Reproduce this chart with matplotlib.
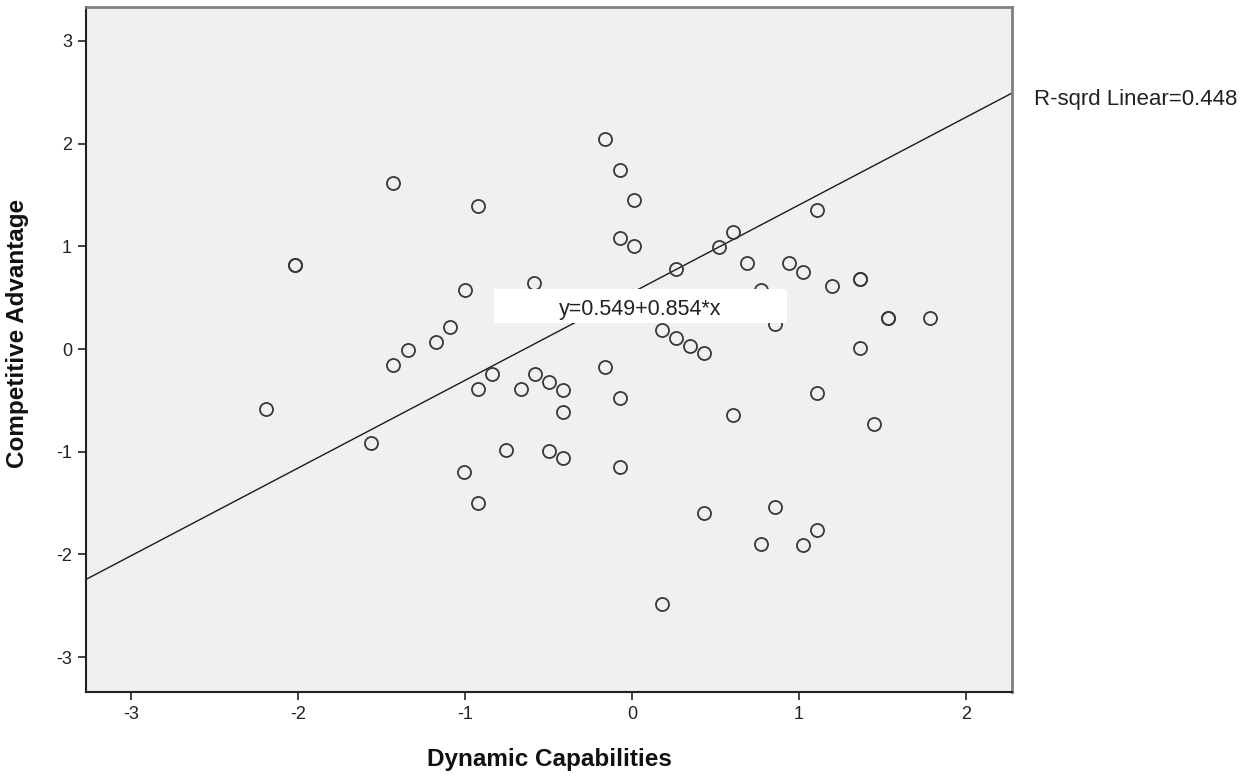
"""SPSS-style scatter: Dynamic Capabilities vs Competitive Advantage with linear fit."""

import matplotlib
matplotlib.use("Agg")
import matplotlib.pyplot as plt
from matplotlib.patches import Rectangle

plt.rcParams["font.family"] = ["Liberation Sans", "DejaVu Sans"]
plt.rcParams["axes.unicode_minus"] = False

# --- data ---
dynamic_caps = [
    -2.19, -2.02, -2.02, -1.565, -1.43, -1.43, -1.34, -1.175, -1.09, -1.00,
    -1.006, -0.92, -0.922, -0.922, -0.84, -0.753, -0.667, -0.585, -0.58, -0.497,
    -0.497, -0.413, -0.413, -0.413, -0.162, -0.162, -0.074, -0.074, -0.074, -0.074,
    0.01, 0.01, 0.178, 0.178, 0.263, 0.263, 0.347, 0.433, 0.433, 0.519,
    0.603, 0.603, 0.687, 0.77, 0.77, 0.856, 0.856, 0.94, 1.026, 1.026,
    1.11, 1.11, 1.11, 1.196, 1.365, 1.365, 1.365, 1.449, 1.535, 1.535,
    1.784,
]
competitive_adv = [
    -0.58, 0.82, 0.82, -0.917, 1.62, -0.156, -0.007, 0.065, 0.21, 0.57,
    -1.20, 1.39, -0.386, -1.498, -0.24, -0.98, -0.392, 0.645, -0.24, -0.32,
    -0.99, -0.40, -0.616, -1.063, 2.04, -0.178, 1.74, 1.077, -0.477, -1.145,
    1.447, 1.00, 0.185, -2.48, 0.778, 0.107, 0.032, -0.042, -1.60, 0.99,
    1.14, -0.639, 0.84, 0.574, -1.90, 0.243, -1.534, 0.834, 0.752, -1.907,
    1.35, -0.428, -1.76, 0.61, 0.678, 0.678, 0.01, -0.73, 0.30, 0.30,
    0.30,
]
INTERCEPT = 0.549
SLOPE = 0.854
R_SQ = 0.448

X_TICKS = [-3, -2, -1, 0, 1, 2]
Y_TICKS = [-3, -2, -1, 0, 1, 2, 3]
XLIM = (-3.27, 2.275)
YLIM = (-3.34, 3.33)

# --- style ---
PLOT_BG = "#F0F0F0"
MARKER_EDGE = "#383838"
DPI = 100

fig = plt.figure(figsize=(12.59, 7.78), dpi=DPI)
ax = fig.add_axes([0.0683, 0.1105, 0.7355, 0.8805])
ax.set_facecolor(PLOT_BG)

ax.plot(dynamic_caps, competitive_adv, linestyle="none", marker="o",
        markersize=9.4, markerfacecolor="none", markeredgecolor=MARKER_EDGE,
        markeredgewidth=1.3, zorder=3)

line_x = list(XLIM)
line_y = [INTERCEPT + SLOPE * v for v in line_x]
ax.plot(line_x, line_y, color="#1a1a1a", linewidth=1.0, zorder=2)

ax.set_xlim(*XLIM)
ax.set_ylim(*YLIM)

# equation label box
ax.add_patch(Rectangle((-0.826, 0.253), 1.754, 0.331, facecolor="white",
                       edgecolor="none", zorder=4))
ax.text(0.05, 0.38, f"y={INTERCEPT}+{SLOPE}*x", ha="center", va="center",
        fontsize=15.5, color="#222222", zorder=5)

fig.text(0.821, 0.8715, f"R-sqrd Linear={R_SQ}", ha="left", va="center",
         fontsize=16, color="#222222")

ax.set_xticks(X_TICKS)
ax.set_yticks(Y_TICKS)
ax.tick_params(axis="both", direction="out", length=6, width=1.2,
               color="#222222", labelsize=13, labelcolor="#222222", pad=4)

for side in ["left", "bottom"]:
    ax.spines[side].set_color("#222222")
    ax.spines[side].set_linewidth(1.5)
for side in ["top", "right"]:
    ax.spines[side].set_color("#7f7f7f")
    ax.spines[side].set_linewidth(2.0)

ax.set_xlabel("Dynamic Capabilities", fontsize=17.5, fontweight="bold", color="#111111")
ax.set_ylabel("Competitive Advantage", fontsize=17.5, fontweight="bold", color="#111111")
ax.xaxis.set_label_coords(0.5, -0.082)
ax.yaxis.set_label_coords(-0.062, 0.523)

fig.savefig("out.png", dpi=DPI)
